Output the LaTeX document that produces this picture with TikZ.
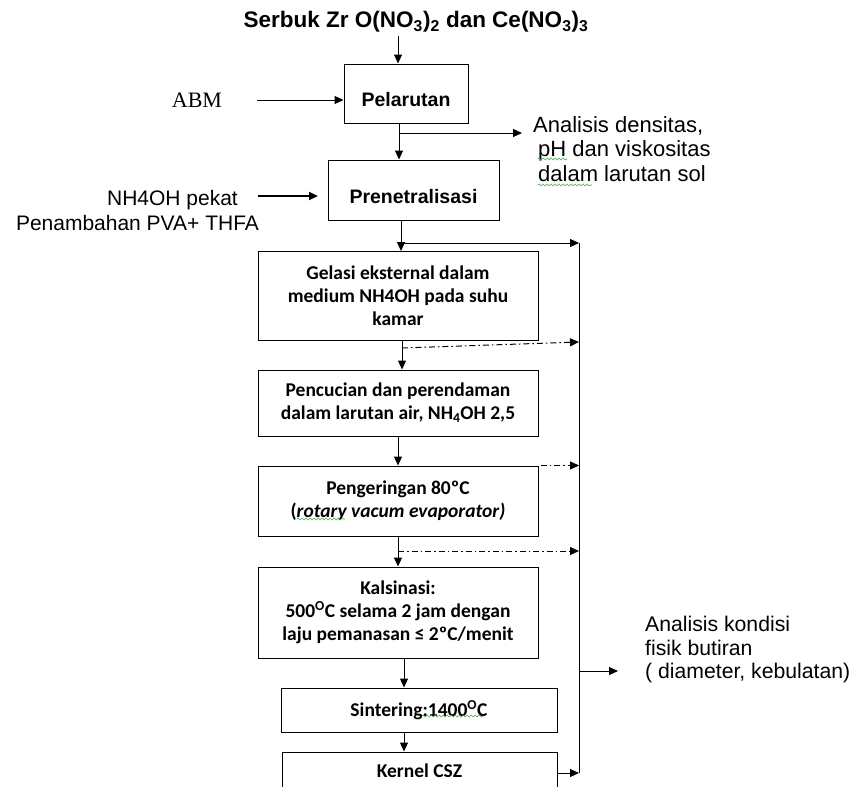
\documentclass[tikz,border=0pt]{standalone}
\usepackage{fontspec}
\setmainfont{Liberation Sans}
\newfontfamily\calibri{Carlito}
\newfontfamily\timesfont{Liberation Serif}
\usetikzlibrary{arrows.meta,calc,decorations.pathmorphing}
\definecolor{squig}{RGB}{70,170,70}

\begin{document}
\begin{tikzpicture}[x=1pt,y=-1pt,
    stepbox/.style={draw, line width=1pt, inner sep=0pt, align=center, font=\calibri\bfseries\fontsize{19.5}{23}\selectfont},
    headbox/.style={draw, line width=1pt, inner sep=0pt, text height=26pt, text depth=0pt, font=\bfseries\fontsize{19.5}{23}\selectfont},
    note/.style={inner sep=0pt, align=left, font=\fontsize{21}{23.5}\selectfont},
    flow/.style={-{Triangle[length=9pt,width=8pt]}, line width=1pt},
    dashflow/.style={flow, dash pattern=on 6pt off 3pt on 1.5pt off 3pt},
    squiggle/.style={draw=squig, line width=0.6pt, decorate, decoration={snake, amplitude=1pt, segment length=4pt}}]
    \useasboundingbox (0,0) rectangle (855,787);

    \node[inner sep=0pt, font=\bfseries\fontsize{22.5}{26}\selectfont] (title) at (416,22) {Serbuk Zr O(NO\textsubscript{3})\textsubscript{2} dan Ce(NO\textsubscript{3})\textsubscript{3}};
    \node[headbox, minimum width=124pt, minimum height=59pt] (pel) at (406,93.5) {Pelarutan};
    \node[headbox, minimum width=171pt, minimum height=60pt] (pre) at (413.5,190) {Prenetralisasi};
    \node[stepbox, minimum width=280pt, minimum height=89pt] (gel) at (398,296) {Gelasi eksternal dalam\\medium NH4OH pada suhu\\kamar};
    \node[stepbox, minimum width=280pt, minimum height=66pt] (pen) at (398,403) {Pencucian dan perendaman\\dalam larutan air, NH\textsubscript{4}OH 2,5};
    \node[stepbox, minimum width=280pt, minimum height=70pt] (peng) at (398,501) {Pengeringan 80ºC\\(\textit{rotary vacum evaporator)}};
    \node[stepbox, minimum width=280pt, minimum height=91pt] (kal) at (398,612.5) {Kalsinasi:\\500\textsuperscript{O}C selama 2 jam dengan\\laju pemanasan ≤ 2ºC/menit};
    \node[stepbox, minimum width=276pt, minimum height=44pt] (sin) at (419,710) {Sintering:1400\textsuperscript{O}C};
    \node[stepbox, minimum width=275pt, minimum height=38pt] (ker) at (419.5,771) {Kernel CSZ};

    \node[inner sep=0pt, font=\timesfont\fontsize{22}{24}\selectfont] (abm) at (197,100) {ABM};
    \node[note] (nh) at (172.5,200) {NH4OH pekat};
    \node[note] (pva) at (137.5,223) {Penambahan PVA+ THFA};
    \node[note, anchor=north west, font=\fontsize{22}{24.5}\selectfont] (dens) at (533,116) {Analisis densitas,\\\hspace{5pt}pH dan viskositas\\\hspace{5pt}dalam larutan sol};
    \node[note, anchor=north west, font=\fontsize{21.2}{23.5}\selectfont] (kond) at (645,616) {Analisis kondisi\\fisik butiran\\( diameter, kebulatan)};

    \coordinate (bustop) at (579,243);
    \coordinate (busbot) at (579,773);

    \draw[flow] (398,0 |- title.south) ++(0,3) -- (pel.north -| 398,0);
    \draw[flow] ($(abm.east)+(35,0)$) -- (abm -| pel.west);
    \draw[flow] (pel.south -| 399,0) -- (pre.north -| 399,0);
    \draw[flow] (399,133) -- (522,133);
    \draw[flow, line width=2.5pt] (258,196) -- (318,196);
    \draw[flow] (pre.south -| 401,0) -- (gel.north -| 401,0);
    \draw[flow] (401,0 |- bustop) -- (bustop);
    \draw[flow] (gel.south -| 402,0) -- (pen.north -| 402,0);
    \draw[dashflow] (402,348) -- (579,342);
    \draw[flow] (pen.south -| 398,0) -- (peng.north -| 398,0);
    \draw[dashflow] ($(peng.north east)+(2,0)$) -- (peng.north east -| bustop);
    \draw[flow] (peng.south -| 398,0) -- (kal.north -| 398,0);
    \draw[dashflow] (398,551) -- (579,551);
    \draw[flow] (kal.south -| 404,0) -- (sin.north -| 404,0);
    \draw[flow] (sin.south -| 404,0) -- (ker.north -| 404,0);
    \draw[flow] (ker.east |- busbot) -- (busbot);
    \draw[line width=1pt] (bustop) -- (busbot);
    \draw[flow] (579,671) -- (618,671);

    \draw[squiggle] (538,159) -- (567,159);
    \draw[squiggle] (538,185) -- (592,185);
    \draw[squiggle] (297,519) -- (345,519);
    \draw[squiggle] (422,716) -- (483,716);
\end{tikzpicture}
\end{document}
